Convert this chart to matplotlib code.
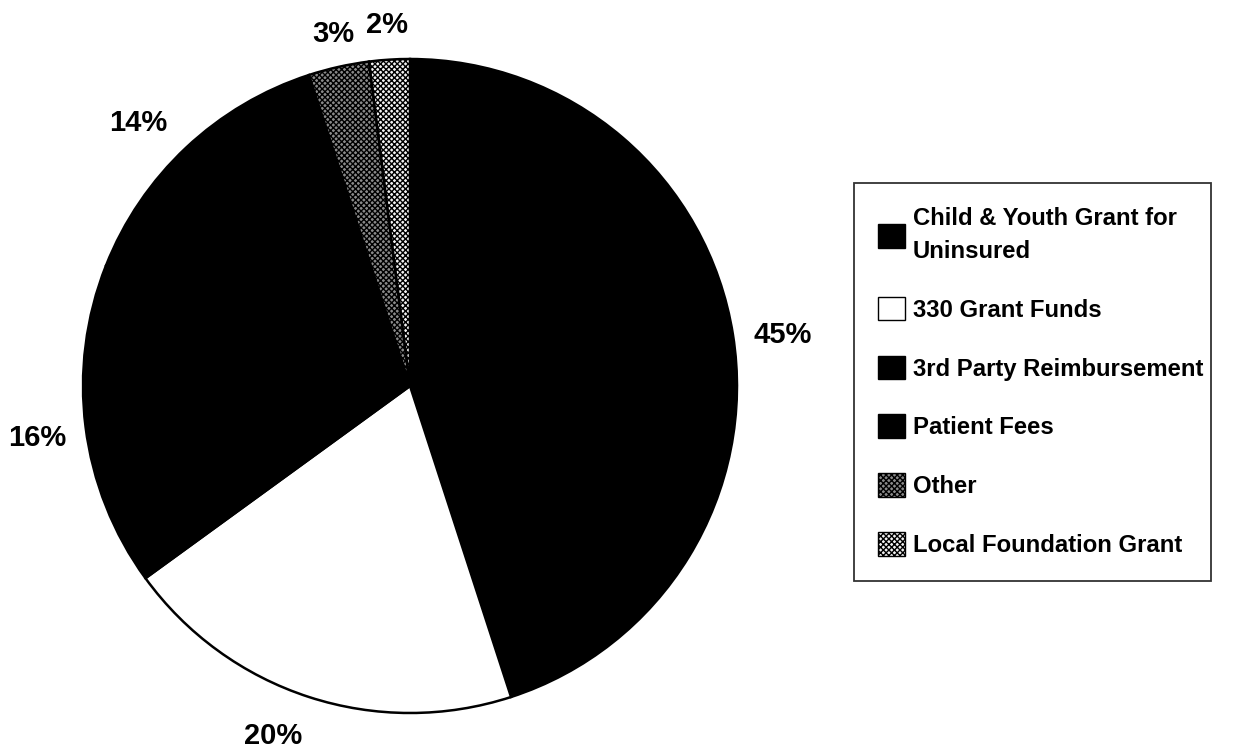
import matplotlib
matplotlib.use("Agg")
import numpy as np
import matplotlib.pyplot as plt
from matplotlib.patches import Patch

categories = ["Child & Youth Grant for\nUninsured", "330 Grant Funds",
              "3rd Party Reimbursement", "Patient Fees", "Other",
              "Local Foundation Grant"]
values = [45, 20, 16, 14, 3, 2]
face_colors = ["black", "white", "black", "black", "#8a8a8a", "#f2f2f2"]
hatches = [None, None, None, None, "xxxxxx", "xxxxxx"]
# label placement style (radial distance in radii, angular nudge in degrees)
label_dist = [1.153, 1.141, 1.150, 1.162, 1.110, 1.116]
label_nudge = [-0.8, -3.5, 0.3, 2.4, -0.4, 0.0]

plt.rcParams['font.family'] = ['Liberation Sans', 'DejaVu Sans']
plt.rcParams['hatch.linewidth'] = 1.0

W, H = 1236, 748
fig = plt.figure(figsize=(W / 100, H / 100), dpi=100)
cx, cy, R = 410, 386, 327
ax = fig.add_axes([(cx - R) / W, (H - cy - R) / H, 2 * R / W, 2 * R / H])

wedges, texts, autotexts = ax.pie(
    values, colors=face_colors, startangle=90, counterclock=False,
    autopct=lambda p: f"{p:.0f}%", pctdistance=1.13,
    wedgeprops=dict(edgecolor="black", linewidth=1.8),
    textprops=dict(fontsize=21, fontweight="bold", color="black"))
for w, t, d, n in zip(wedges, autotexts, label_dist, label_nudge):
    ang = np.deg2rad((w.theta1 + w.theta2) / 2 + n)
    t.set_position((d * np.cos(ang), d * np.sin(ang)))
    t.set_va("center_baseline")
for w, h in zip(wedges, hatches):
    if h:
        w.set_hatch(h)
ax.set_xlim(-1, 1)
ax.set_ylim(-1, 1)
ax.set_aspect("equal")
ax.axis("off")

handles = [Patch(facecolor=c, edgecolor="black", hatch=h, linewidth=1.0)
           for c, h in zip(face_colors, hatches)]
x0, x1, y0, y1 = 854, 1211, 183, 583
leg = fig.legend(handles, categories,
                 bbox_to_anchor=(x0 / W, (H - y1) / H, (x1 - x0) / W, (y1 - y0) / H),
                 loc="upper left", mode="expand", borderaxespad=0,
                 prop=dict(family="Liberation Sans", weight="bold", size=17.2),
                 handlelength=1.15, handleheight=1.15, handletextpad=0.3,
                 labelspacing=1.42, borderpad=1.0, fancybox=False,
                 frameon=True, edgecolor="black")
leg.get_frame().set_linewidth(1.3)
for t in leg.get_texts():
    t.set_linespacing(1.55)

fig.savefig("out.png", dpi=100)
